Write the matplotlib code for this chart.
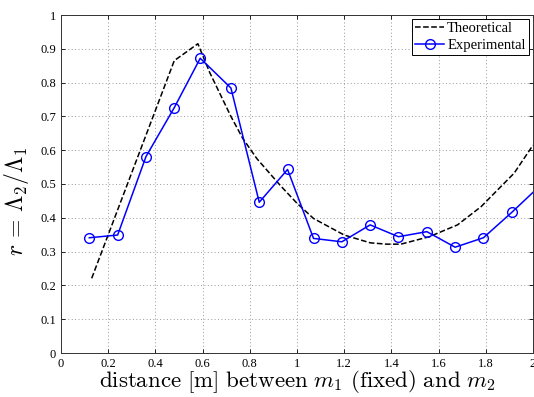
import numpy as np
import matplotlib
matplotlib.use("Agg")
from matplotlib import pyplot as plt

plt.rcParams['font.family'] = ['Liberation Serif', 'DejaVu Serif']
plt.rcParams['mathtext.fontset'] = 'cm'

# experimental points
exp_x = [0.12, 0.24, 0.36, 0.48, 0.59, 0.72, 0.84, 0.96, 1.07, 1.19, 1.31, 1.43, 1.55, 1.67, 1.79, 1.91, 2.03]
exp_y = [0.341, 0.349, 0.581, 0.726, 0.872, 0.784, 0.446, 0.543, 0.339, 0.329, 0.379, 0.344, 0.359, 0.313, 0.341, 0.416, 0.495]

# theoretical curve
th_x = [0.13, 0.48, 0.58, 0.63, 0.72, 0.77, 0.83, 0.93, 1.00, 1.07, 1.20, 1.31, 1.38, 1.44, 1.56, 1.68, 1.78, 1.92, 2.00]
th_y = [0.221, 0.865, 0.915, 0.83, 0.70, 0.635, 0.575, 0.495, 0.443, 0.398, 0.349, 0.326, 0.322, 0.322, 0.344, 0.379, 0.433, 0.532, 0.615]

xticks = [0, 0.2, 0.4, 0.6, 0.8, 1, 1.2, 1.4, 1.6, 1.8, 2]
yticks = [0, 0.1, 0.2, 0.3, 0.4, 0.5, 0.6, 0.7, 0.8, 0.9, 1]

fig = plt.figure(figsize=(5.34, 3.97), dpi=100)
ax = fig.add_axes([61/534, 1-353/397, 472/534, 338/397])

ax.plot(th_x, th_y, 'k--', lw=1.1, label='Theoretical')
ax.plot(exp_x, exp_y, '-o', color='#0000ff', lw=1.1, ms=7, mfc='none', mew=1.0,
        label='Experimental')

ax.set_xlim(0, 2)
ax.set_ylim(0, 1)
ax.set_xticks(xticks)
ax.set_xticklabels(['%g' % t for t in xticks])
ax.set_yticks(yticks)
ax.set_yticklabels(['%g' % t for t in yticks])
ax.tick_params(direction='in', labelsize=9, length=3, width=0.6, top=True, right=True)
ax.grid(True, linestyle=(0, (1, 2.5)), color='#999999', lw=0.7)
for s in ax.spines.values():
    s.set_linewidth(0.7)
    s.set_color('#333333')

ax.set_xlabel(r'$\mathrm{distance\ [m]\ between\ }m_1\mathrm{\ (fixed)\ and\ }m_2$',
              fontsize=16.5, labelpad=-1)
ax.set_ylabel(r'$r\,=\,\Lambda_2/\Lambda_1$', fontsize=17)
ax.yaxis.set_label_coords(-0.063, 0.45)

leg = ax.legend(loc='upper right', fontsize=10.5, fancybox=False, framealpha=1,
                edgecolor='black', borderaxespad=0.3, handlelength=2.0,
                borderpad=0.2, labelspacing=0.25, handletextpad=0.2)
leg.get_frame().set_linewidth(0.7)

fig.savefig('out.png', dpi=100)
